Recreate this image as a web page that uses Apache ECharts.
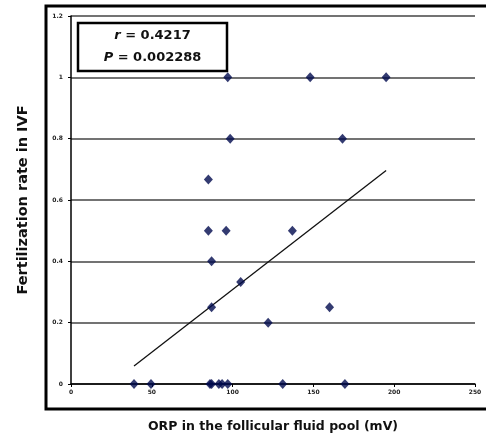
<!DOCTYPE html>
<html>
<head>
<meta charset="utf-8">
<script src="https://cdn.jsdelivr.net/npm/echarts@6/dist/echarts.min.js"></script>
<style>
    html, body { margin: 0; padding: 0; background: #fff; }
    #chart { width: 486px; height: 438px; }
</style>
</head>
<body>
<div id="chart"></div>
<script>
    // ORP (mV) vs fertilization rate
    var orp = [39, 49.5, 86, 87, 91.5, 93.5, 97, 131, 169.5,
               122, 87, 160, 105, 87, 85, 96, 137,
               85, 98.5, 168, 97, 148, 195];
    var rate = [0, 0, 0, 0, 0, 0, 0, 0, 0,
                0.2, 0.25, 0.25, 0.333, 0.4, 0.5, 0.5, 0.5,
                0.667, 0.8, 0.8, 1, 1, 1];
    // trend line end points
    var trendX = [39, 195];
    var trendY = [0.059, 0.696];
    var xTicks = [0, 50, 100, 150, 200, 250];
    var yTicks = [0, 0.2, 0.4, 0.6, 0.8, 1, 1.2];

    var points = orp.map(function (x, i) { return [x, rate[i]]; });
    var trend = trendX.map(function (x, i) { return [x, trendY[i]]; });

    var myChart = echarts.init(document.getElementById('chart'));

    var option = {
        animation: false,
        grid: { left: 71, right: 11, top: 16, bottom: 54 },
        xAxis: {
            type: 'value',
            min: xTicks[0],
            max: xTicks[xTicks.length - 1],
            interval: 50,
            name: 'ORP in the follicular fluid pool (mV)',
            nameLocation: 'middle',
            nameGap: 36,
            nameTextStyle: { fontFamily: 'DejaVu Sans', fontWeight: 'bold', fontSize: 12.5, color: '#111' },
            axisLine: { lineStyle: { color: '#000', width: 1.5 } },
            axisTick: { show: true, length: 3, lineStyle: { color: '#000' } },
            axisLabel: { fontFamily: 'DejaVu Sans', fontWeight: 'bold', fontSize: 6, color: '#222', margin: 5 },
            splitLine: { show: false }
        },
        yAxis: {
            type: 'value',
            min: yTicks[0],
            max: yTicks[yTicks.length - 1],
            interval: 0.2,
            name: 'Fertilization rate in IVF',
            nameLocation: 'middle',
            nameGap: 40,
            nameTextStyle: { fontFamily: 'DejaVu Sans', fontWeight: 'bold', fontSize: 14.5, color: '#111' },
            axisLine: { show: true, lineStyle: { color: '#000', width: 1.5 } },
            axisTick: { show: true, length: 3, lineStyle: { color: '#000' } },
            axisLabel: {
                fontFamily: 'DejaVu Sans', fontWeight: 'bold', fontSize: 6, color: '#222', margin: 8,
                formatter: function (v) { return String(Math.round(v * 10) / 10); }
            },
            splitLine: { show: true, lineStyle: { color: '#444', width: 1.5 } }
        },
        series: [
            {
                type: 'scatter',
                data: points,
                symbol: 'diamond',
                symbolSize: [9, 10],
                itemStyle: { color: '#000a4d' },
                z: 5
            },
            {
                type: 'line',
                data: trend,
                symbol: 'none',
                lineStyle: { color: '#111', width: 1.3 },
                z: 4
            }
        ],
        graphic: [
            {
                type: 'rect',
                shape: { x: 46, y: 6, width: 460, height: 403 },
                style: { fill: 'none', stroke: '#000', lineWidth: 3 },
                silent: true
            },
            {
                type: 'rect',
                shape: { x: 78, y: 23, width: 149, height: 48 },
                style: { fill: '#fff', stroke: '#000', lineWidth: 2.5 },
                z: 10
            },
            {
                type: 'text',
                x: 152.5,
                y: 47,
                z: 11,
                style: {
                    text: '{i|r} = 0.4217\n{i|P} = 0.002288',
                    fontFamily: 'DejaVu Sans',
                    fontWeight: 'bold',
                    fontSize: 13,
                    lineHeight: 22,
                    fill: '#111',
                    align: 'center',
                    verticalAlign: 'middle',
                    rich: {
                        i: { fontStyle: 'italic', fontWeight: 'bold', fontFamily: 'DejaVu Sans', fontSize: 13, fill: '#111' }
                    }
                }
            }
        ]
    };

    myChart.setOption(option);
</script>
</body>
</html>
